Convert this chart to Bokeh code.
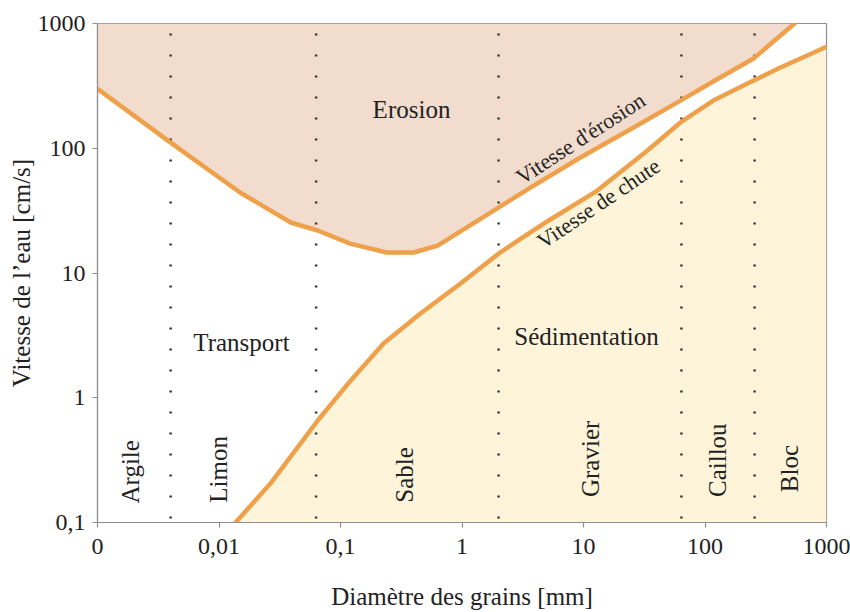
from bokeh.plotting import figure
from bokeh.models import FixedTicker, Range1d
from bokeh.core.properties import value
from bokeh.embed import file_html
from bokeh.resources import INLINE
import math

# ---- data ----
x_ticks = [0.001, 0.01, 0.1, 1, 10, 100, 1000]
x_tick_labels = ["0", "0,01", "0,1", "1", "10", "100", "1000"]
y_ticks = [0.1, 1, 10, 100, 1000]
y_tick_labels = ["0,1", "1", "10", "100", "1000"]

# erosion velocity curve (mm, cm/s)
erosion_d = [0.001, 0.004, 0.015, 0.039, 0.065, 0.12, 0.24, 0.40, 0.63, 1.24,
             3.66, 9.44, 24.4, 62.8, 117, 251, 546]
erosion_v = [300, 111, 44, 25.4, 21.9, 17.2, 14.6, 14.6, 16.6, 25,
             48.4, 84.3, 142, 241, 343, 524, 1000]

# settling velocity curve
chute_d = [0.0137, 0.0265, 0.065, 0.121, 0.226, 0.455, 0.973, 2.0, 3.03, 5.06,
           13.0, 33.6, 62.8, 117, 224, 418, 1000]
chute_v = [0.1, 0.205, 0.657, 1.37, 2.72, 4.73, 8.24, 14.3, 18.8, 26,
           45.8, 95.9, 161, 241, 330, 444, 650]

# grain class boundaries (mm)
boundaries = [0.004, 0.063, 2, 64, 256]

classes = ["Argile", "Limon", "Sable", "Gravier", "Caillou", "Bloc"]
class_x = [0.00187, 0.0099, 0.336, 11.4, 127, 495]
class_y = [0.142, 0.144, 0.144, 0.160, 0.160, 0.175]

zones = ["Erosion", "Transport", "Sédimentation"]
zone_x = [0.384, 0.0153, 10.6]
zone_y = [205, 2.77, 3.1]

curve_labels = ["Vitesse d'érosion", "Vitesse de chute"]
curve_label_x = [9.44, 13.3]
curve_label_y = [120, 36.1]
curve_label_angle = [33, 34]

# ---- figure ----
FONT = "Liberation Serif"
TXT = "#222222"
p = figure(width=850, height=612, x_axis_type="log", y_axis_type="log",
           x_range=Range1d(0.001, 1000), y_range=Range1d(0.1, 1000),
           output_backend="svg", toolbar_location=None,
           min_border_left=97, min_border_right=24, min_border_top=23,
           min_border_bottom=90)
p.grid.visible = False
p.outline_line_color = "#8f8f8f"
p.outline_line_width = 1.2
p.background_fill_color = "white"

# fills
p.varea(x=erosion_d, y1=erosion_v, y2=[1000] * len(erosion_d),
        fill_color="#f1dccd")
p.varea(x=chute_d, y1=[0.1] * len(chute_d), y2=chute_v,
        fill_color="#fdf4da")

# dotted class boundaries
p.segment(x0=boundaries, x1=boundaries, y0=[1000] * len(boundaries),
          y1=[0.1] * len(boundaries), line_color="#333333", line_width=2.5,
          line_dash="2 19", line_dash_offset=11)

# curves
p.line(erosion_d, erosion_v, line_color="#eea04a", line_width=4.5,
       line_join="round", line_cap="round")
p.line(chute_d, chute_v, line_color="#eea04a", line_width=4.5,
       line_join="round", line_cap="round")

# zone labels
p.text(x=zone_x, y=zone_y, text=zones, text_font=value(FONT),
       text_font_size="25px", text_color=TXT, text_align="center",
       text_baseline="middle")

# curve labels
p.text(x=curve_label_x, y=curve_label_y, text=curve_labels,
       angle=[math.radians(a) for a in curve_label_angle],
       text_font=value(FONT), text_font_size="22px", text_color=TXT,
       text_align="center", text_baseline="middle")

# grain class labels
p.text(x=class_x, y=class_y, text=classes, angle=math.pi / 2,
       text_font=value(FONT), text_font_size="25px", text_color=TXT,
       text_align="left", text_baseline="middle")

# axes
for ax in (p.xaxis[0], p.yaxis[0]):
    ax.axis_line_color = "#8f8f8f"
    ax.axis_line_width = 1.2
    ax.major_tick_line_color = "#8f8f8f"
    ax.major_tick_line_width = 1.2
    ax.major_tick_in = 0
    ax.major_tick_out = 5
    ax.minor_tick_line_color = None
    ax.major_label_text_font = FONT
    ax.major_label_text_font_size = "24px"
    ax.major_label_text_color = TXT
    ax.axis_label_text_font = FONT
    ax.axis_label_text_font_size = "25px"
    ax.axis_label_text_font_style = "normal"
    ax.axis_label_text_color = TXT

p.xaxis.ticker = FixedTicker(ticks=x_ticks)
p.yaxis.ticker = FixedTicker(ticks=y_ticks)
p.xaxis.major_label_overrides = dict(zip(x_ticks, x_tick_labels))
p.yaxis.major_label_overrides = dict(zip(y_ticks, y_tick_labels))
p.xaxis.major_label_standoff = 11
p.yaxis.major_label_standoff = 7
p.xaxis.axis_label = "Diamètre des grains [mm]"
p.yaxis.axis_label = "Vitesse de l’eau [cm/s]"
p.xaxis.axis_label_standoff = 26
p.yaxis.axis_label_standoff = 0

open("out.html", "w").write(file_html(p, INLINE))
